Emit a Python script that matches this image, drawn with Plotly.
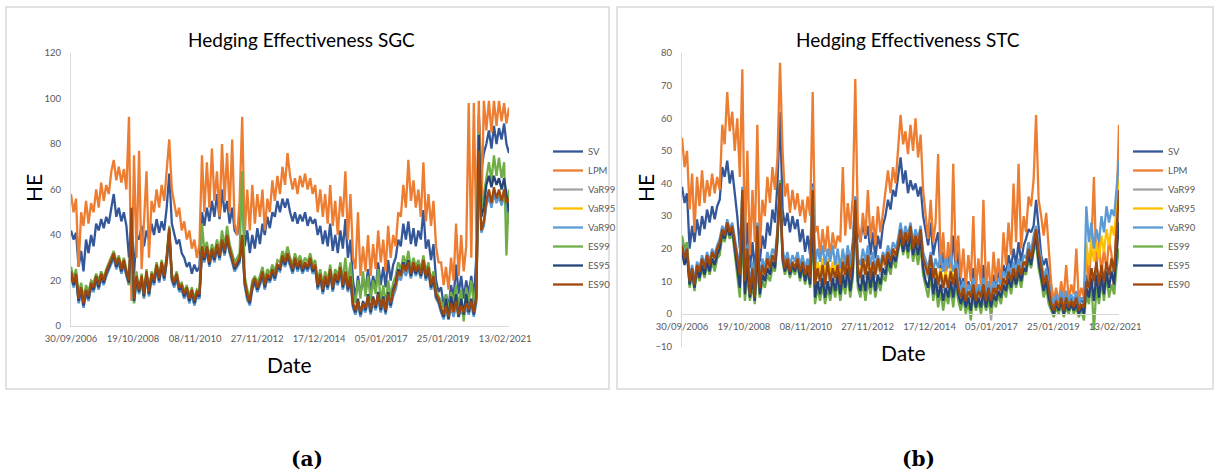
import pandas as pd
import plotly.graph_objects as go

# ---------------- data (monthly readings, Sep-2006 .. Mar-2021) ----------------
dates = pd.date_range("2006-09-30", "2021-03-31", freq="ME")

tick_dates = ["2006-09-30", "2008-10-19", "2010-11-08", "2012-11-27",
              "2014-12-17", "2017-01-05", "2019-01-25", "2021-02-13"]
tick_labels = ["30/09/2006", "19/10/2008", "08/11/2010", "27/11/2012",
               "17/12/2014", "05/01/2017", "25/01/2019", "13/02/2021"]

series_names = ["SV", "LPM", "VaR99", "VaR95", "VaR90", "ES99", "ES95", "ES90"]

# ---- Panel (a): SGC ----
sgc_sv = [42, 38, 41,
          26, 33, 24, 38, 32, 40, 35, 45, 42, 47, 43, 48,
          45, 52, 58, 48, 52, 46, 50, 44, 30, 45, 23, 40,
          38, 44, 35, 42, 38, 45, 40, 47, 41, 46, 42, 52,
          67, 45, 40, 36, 38, 32, 30, 26, 28, 23, 27, 24,
          26, 50, 44, 52, 46, 55, 48, 58, 47, 60, 50, 55,
          45, 52, 42, 40, 45, 58, 35, 42, 32, 40, 34, 43,
          36, 45, 40, 48, 43, 50, 48, 55, 50, 56, 52, 56,
          50, 46, 50, 45, 49, 46, 50, 44, 48, 45, 47, 40,
          44, 36, 42, 35, 45, 33, 40, 32, 42, 34, 47, 30,
          38, 20, 12, 22, 14, 20, 16, 25, 15, 22, 16, 28,
          18, 26, 17, 29, 20, 27, 30, 38, 35, 45, 38, 46,
          36, 43, 35, 42, 38, 51, 34, 38, 29, 36, 20, 15,
          17, 9, 14, 8, 18, 12, 27, 14, 22, 12, 20, 14,
          22, 12, 30, 93, 68, 76, 80, 86, 78, 88, 80, 87,
          82, 89, 80, 76]
sgc_lpm = [58, 50, 56,
           26, 50, 44, 55, 45, 54, 50, 60, 52, 63, 55, 62,
           58, 68, 73, 64, 70, 63, 69, 60, 92, 11, 75, 30,
           77, 25, 48, 68, 30, 55, 50, 60, 52, 62, 55, 70,
           82, 60, 55, 48, 52, 42, 46, 38, 42, 34, 38, 30,
           36, 75, 50, 72, 52, 78, 55, 68, 48, 80, 55, 76,
           50, 82, 45, 40, 55, 92, 40, 60, 42, 62, 45, 58,
           48, 60, 42, 56, 50, 64, 55, 66, 58, 70, 62, 76,
           66, 60, 65, 58, 66, 61, 67, 60, 65, 58, 62, 50,
           60, 48, 58, 45, 62, 44, 55, 40, 57, 48, 68, 38,
           58, 30, 25, 50, 22, 35, 24, 40, 22, 36, 25, 42,
           28, 38, 24, 44, 30, 40, 35, 50, 48, 62, 52, 73,
           55, 64, 52, 60, 48, 72, 46, 58, 44, 55, 35, 28,
           28, 18, 26, 16, 30, 20, 45, 22, 40, 24, 35, 98,
           30, 98, 40, 99, 48, 99, 86, 99, 85, 99, 88, 99,
           90, 98, 89, 96]
sgc_var99 = [22, 17, 21,
             10, 15, 8, 15, 11, 17, 15, 20, 16, 21, 18, 22,
             25, 28, 30, 25, 28, 23, 27, 22, 18, 40, 10, 20,
             14, 20, 12, 22, 13, 21, 18, 25, 19, 26, 20, 28,
             41, 20, 17, 21, 15, 16, 12, 15, 10, 14, 9, 13,
             12, 33, 28, 33, 26, 32, 28, 34, 29, 36, 31, 37,
             32, 28, 24, 26, 28, 37, 18, 11, 10, 16, 19, 15,
             18, 22, 16, 21, 19, 23, 20, 25, 24, 29, 26, 30,
             26, 23, 28, 24, 27, 23, 26, 24, 28, 23, 25, 16,
             21, 14, 20, 16, 23, 15, 21, 18, 24, 16, 22, 15,
             20, 8, 5, 10, 5, 9, 6, 12, 6, 11, 7, 13,
             6, 11, 6, 13, 9, 14, 17, 23, 21, 26, 23, 27,
             21, 26, 22, 25, 21, 27, 20, 24, 16, 20, 12, 10,
             6, 3, 8, 3, 9, 5, 10, 4, 8, 5, 9, 6,
             10, 5, 11, 72, 44, 45, 54, 58, 53, 59, 55, 58,
             54, 58, 53, 55]
sgc_var95 = [23, 18, 22,
             11, 16, 9, 15, 12, 18, 16, 21, 17, 22, 19, 23,
             26, 29, 31, 26, 29, 24, 28, 23, 19, 42, 11, 21,
             15, 21, 13, 23, 14, 22, 19, 26, 20, 27, 21, 29,
             42, 21, 18, 22, 16, 17, 13, 16, 11, 15, 10, 14,
             13, 34, 29, 34, 27, 33, 29, 35, 30, 37, 32, 39,
             33, 29, 25, 27, 29, 38, 19, 12, 10, 17, 20, 16,
             19, 23, 17, 22, 20, 24, 21, 26, 25, 30, 27, 31,
             27, 24, 29, 25, 28, 24, 27, 25, 29, 24, 26, 17,
             22, 15, 21, 17, 24, 16, 22, 19, 25, 17, 23, 16,
             21, 9, 6, 10, 5, 9, 7, 12, 6, 11, 8, 13,
             7, 11, 6, 13, 9, 14, 17, 23, 21, 26, 23, 27,
             22, 27, 23, 26, 22, 28, 21, 25, 17, 21, 13, 11,
             7, 4, 8, 3, 9, 5, 10, 4, 8, 5, 9, 6,
             10, 5, 11, 74, 43, 46, 54, 59, 53, 60, 55, 59,
             54, 59, 53, 55]
sgc_var90 = [22, 17, 21,
             10, 15, 8, 14, 11, 17, 15, 20, 16, 21, 18, 22,
             25, 28, 30, 25, 28, 23, 27, 22, 18, 45, 10, 20,
             14, 20, 12, 22, 13, 21, 18, 25, 19, 26, 20, 28,
             41, 20, 17, 21, 15, 16, 12, 15, 10, 14, 9, 13,
             12, 33, 28, 33, 26, 32, 28, 34, 29, 36, 31, 38,
             32, 28, 24, 26, 28, 38, 18, 12, 9, 16, 19, 15,
             18, 22, 16, 21, 19, 23, 20, 25, 24, 29, 26, 30,
             26, 23, 28, 24, 27, 23, 26, 24, 28, 23, 25, 16,
             21, 14, 20, 16, 23, 15, 21, 18, 24, 16, 22, 15,
             20, 8, 5, 9, 4, 8, 6, 11, 5, 10, 7, 12,
             6, 10, 5, 12, 8, 13, 16, 22, 20, 25, 22, 26,
             21, 26, 22, 25, 21, 27, 20, 24, 16, 20, 12, 10,
             6, 3, 7, 3, 8, 4, 9, 4, 7, 4, 8, 5,
             9, 4, 10, 75, 41, 44, 53, 57, 52, 58, 54, 57,
             53, 57, 52, 45]
sgc_es99 = [26, 21, 25,
            14, 19, 12, 18, 15, 20, 19, 23, 20, 24, 21, 25,
            28, 31, 33, 28, 31, 26, 30, 25, 18, 35, 10, 24,
            15, 23, 13, 25, 14, 24, 21, 28, 22, 29, 23, 31,
            44, 23, 20, 24, 18, 19, 15, 18, 13, 17, 12, 16,
            15, 45, 33, 37, 30, 36, 32, 38, 33, 42, 35, 44,
            36, 32, 28, 30, 32, 68, 22, 16, 12, 20, 22, 19,
            22, 26, 20, 25, 23, 27, 24, 29, 28, 33, 30, 35,
            30, 27, 32, 28, 31, 27, 30, 28, 32, 27, 29, 20,
            25, 18, 24, 20, 27, 19, 25, 22, 28, 20, 30, 19,
            28, 14, 10, 20, 12, 24, 13, 22, 11, 20, 14, 25,
            10, 18, 9, 20, 13, 19, 22, 28, 25, 31, 27, 33,
            25, 30, 26, 29, 25, 31, 24, 28, 20, 24, 16, 13,
            11, 8, 14, 6, 15, 10, 18, 9, 16, 2, 17, 10,
            20, 9, 18, 85, 52, 58, 66, 72, 64, 75, 66, 74,
            65, 72, 31, 60]
sgc_es95 = [23, 18, 22,
            11, 16, 9, 15, 12, 18, 16, 21, 17, 22, 19, 23,
            26, 29, 31, 26, 29, 24, 28, 23, 19, 45, 11, 21,
            15, 21, 13, 23, 14, 22, 19, 26, 20, 27, 21, 29,
            42, 21, 18, 22, 16, 17, 13, 16, 11, 15, 10, 14,
            13, 34, 29, 34, 27, 33, 29, 35, 30, 37, 32, 39,
            33, 29, 25, 27, 29, 38, 19, 13, 10, 17, 20, 16,
            19, 23, 17, 22, 20, 24, 21, 26, 25, 30, 27, 31,
            27, 24, 29, 25, 28, 24, 27, 25, 29, 24, 26, 17,
            22, 15, 21, 17, 24, 16, 22, 19, 25, 17, 23, 16,
            21, 9, 6, 12, 5, 11, 7, 14, 6, 13, 8, 15,
            7, 13, 6, 15, 9, 16, 19, 25, 23, 28, 25, 29,
            22, 27, 23, 26, 22, 28, 21, 25, 17, 21, 13, 11,
            7, 4, 12, 3, 13, 7, 14, 4, 12, 5, 14, 6,
            12, 5, 13, 84, 48, 52, 62, 66, 61, 66, 62, 65,
            60, 65, 58, 50]
sgc_es90 = [24, 19, 23,
            12, 17, 10, 16, 13, 19, 17, 22, 18, 23, 20, 24,
            27, 30, 32, 27, 30, 25, 29, 24, 20, 52, 12, 22,
            16, 22, 14, 24, 15, 23, 20, 27, 21, 28, 22, 30,
            43, 22, 19, 23, 17, 18, 14, 17, 12, 16, 11, 15,
            14, 35, 30, 35, 28, 34, 30, 36, 31, 38, 33, 40,
            34, 30, 26, 28, 30, 40, 20, 14, 11, 18, 21, 17,
            20, 24, 18, 23, 21, 25, 22, 27, 26, 31, 28, 32,
            28, 25, 30, 26, 29, 25, 28, 26, 30, 25, 27, 18,
            23, 16, 22, 18, 25, 17, 23, 20, 26, 18, 24, 17,
            22, 10, 7, 11, 6, 10, 8, 13, 7, 12, 9, 14,
            8, 12, 7, 14, 10, 15, 18, 24, 22, 27, 24, 28,
            23, 28, 24, 27, 23, 29, 22, 26, 18, 22, 14, 12,
            8, 5, 9, 4, 10, 6, 11, 5, 9, 6, 10, 7,
            11, 6, 12, 77, 42, 46, 55, 60, 54, 61, 56, 60,
            55, 60, 54, 56]

# ---- Panel (b): STC ----
stc_sv = [39, 34, 37,
          20, 27, 22, 29, 24, 30, 26, 32, 28, 33, 29, 33,
          35, 45, 42, 47, 40, 44, 38, 30, 20, 33, 16, 28,
          14, 22, 13, 25, 16, 24, 20, 28, 24, 32, 28, 40,
          62, 32, 27, 31, 25, 30, 26, 29, 22, 26, 19, 24,
          18, 40, 14, 12, 10, 14, 11, 15, 10, 14, 12, 16,
          12, 18, 14, 20, 15, 22, 36, 26, 22, 28, 23, 27,
          18, 25, 17, 24, 20, 27, 30, 35, 32, 38, 36, 42,
          48, 40, 44, 37, 41, 38, 40, 36, 39, 30, 26, 21,
          28, 18, 22, 25, 13, 19, 12, 18, 14, 24, 13, 20,
          7, 11, 5, 10, 6, 14, 5, 9, 6, 15, 5, 10,
          5, 12, 7, 13, 9, 15, 12, 18, 14, 20, 15, 22,
          16, 21, 23, 26, 25, 27, 35, 26, 18, 15, 17, 12,
          4, 2, 5, 3, 6, 3, 7, 2, 5, 3, 6, 2,
          5, 3, 12, 7, 14, 10, 15, 8, 13, 9, 14, 11,
          16, 12, 25, 35]
stc_lpm = [54, 45, 50,
           32, 43, 25, 42, 33, 44, 34, 41, 36, 43, 37, 42,
           38, 58, 52, 68, 56, 62, 50, 60, 42, 75, 20, 50,
           18, 38, 22, 58, 20, 35, 30, 42, 34, 45, 38, 48,
           77, 50, 36, 40, 31, 38, 32, 37, 30, 35, 28, 36,
           30, 68, 25, 27, 18, 26, 19, 27, 17, 25, 20, 24,
           22, 45, 24, 34, 26, 36, 72, 28, 22, 31, 24, 38,
           23, 30, 21, 33, 25, 31, 38, 44, 37, 45, 40, 50,
           61, 52, 56, 49, 58, 50, 60, 48, 55, 38, 30, 23,
           35, 22, 28, 49, 15, 25, 12, 22, 14, 46, 16, 24,
           11, 20, 8, 18, 10, 30, 7, 17, 9, 35, 8, 16,
           6, 19, 10, 17, 8, 25, 15, 28, 18, 40, 22, 46,
           20, 30, 25, 36, 33, 41, 61, 35, 30, 24, 31, 20,
           9, 4, 8, 3, 10, 5, 15, 4, 9, 6, 20, 4,
           8, 5, 18, 10, 21, 42, 14, 22, 12, 20, 13, 23,
           18, 6, 35, 58]
stc_var99 = [20, 16, 19,
             9, 13, 8, 14, 12, 16, 13, 17, 14, 18, 16, 19,
             21, 25, 23, 27, 24, 26, 21, 17, 11, 37, 9, 19,
             5, 13, 4, 26, 7, 14, 11, 16, 13, 17, 15, 24,
             39, 17, 13, 16, 12, 15, 13, 16, 12, 15, 11, 14,
             10, 37, 9, 13, 9, 14, 8, 15, 9, 13, 10, 14,
             8, 15, 11, 17, 10, 16, 34, 13, 10, 16, 11, 17,
             10, 15, 11, 16, 12, 17, 14, 18, 15, 19, 17, 20,
             25, 20, 24, 21, 26, 19, 23, 20, 25, 16, 13, 11,
             17, 10, 13, 8, 12, 7, 11, 7, 12, 8, 13, 7,
             4, 7, 3, 6, 4, 8, 3, 6, 4, 8, 3, 8,
             -2, 7, 5, 8, 6, 10, 8, 12, 9, 13, 10, 14,
             11, 15, 14, 19, 16, 21, 25, 18, 14, 8, 11, 7,
             2, 0, 3, 1, 4, 0, 4, 1, 3, 1, 4, 0,
             2, 1, 9, 7, 13, 9, 15, 8, 14, 9, 15, 11,
             16, 12, 24, 36]
stc_var95 = [21, 17, 20,
             10, 14, 9, 15, 13, 17, 14, 18, 15, 19, 17, 20,
             22, 26, 24, 28, 25, 27, 22, 18, 12, 38, 10, 20,
             6, 14, 5, 27, 8, 15, 12, 17, 14, 18, 16, 25,
             40, 18, 14, 17, 13, 16, 14, 17, 13, 16, 12, 15,
             11, 38, 12, 16, 12, 17, 12, 17, 12, 16, 13, 17,
             11, 17, 13, 18, 12, 17, 35, 15, 12, 17, 13, 18,
             12, 16, 12, 17, 13, 18, 15, 19, 16, 20, 18, 21,
             26, 21, 25, 22, 27, 20, 24, 21, 26, 17, 14, 12,
             18, 11, 14, 10, 14, 9, 13, 9, 14, 10, 14, 8,
             5, 8, 4, 7, 5, 9, 4, 7, 5, 9, 4, 8,
             4, 8, 6, 9, 7, 11, 9, 13, 10, 14, 11, 15,
             12, 16, 15, 20, 17, 22, 26, 19, 15, 9, 12, 8,
             3, 1, 4, 2, 5, 1, 5, 2, 4, 2, 5, 1,
             3, 2, 22, 15, 23, 16, 22, 17, 24, 19, 26, 21,
             27, 24, 32, 44]
stc_var90 = [22, 18, 21,
             11, 15, 10, 16, 14, 18, 15, 19, 16, 20, 18, 21,
             23, 27, 25, 29, 26, 28, 23, 19, 14, 39, 12, 21,
             8, 16, 7, 28, 10, 17, 14, 19, 16, 20, 18, 26,
             41, 20, 16, 19, 15, 18, 16, 19, 15, 18, 14, 17,
             13, 39, 15, 20, 16, 21, 15, 20, 16, 21, 15, 20,
             14, 20, 15, 21, 15, 20, 36, 17, 15, 20, 16, 21,
             15, 19, 14, 18, 15, 19, 17, 21, 18, 22, 20, 23,
             28, 23, 27, 24, 28, 22, 26, 23, 27, 19, 16, 14,
             19, 13, 17, 14, 18, 13, 17, 14, 18, 13, 16, 10,
             7, 10, 6, 9, 7, 11, 6, 9, 7, 11, 6, 10,
             6, 10, 8, 11, 9, 13, 11, 15, 12, 16, 13, 17,
             14, 18, 17, 22, 19, 24, 27, 21, 17, 11, 14, 10,
             5, 3, 6, 4, 7, 3, 7, 4, 6, 4, 7, 3,
             5, 4, 33, 22, 28, 20, 26, 22, 30, 25, 33, 28,
             32, 30, 38, 47]
stc_es99 = [24, 20, 22,
            8, 12, 7, 13, 10, 14, 11, 15, 12, 16, 13, 17,
            18, 24, 22, 26, 23, 25, 18, 12, 5, 25, 4, 12,
            4, 9, 3, 15, 5, 10, 8, 12, 10, 14, 13, 22,
            41, 16, 12, 15, 11, 14, 12, 15, 10, 14, 9, 13,
            8, 25, 3, 8, 4, 9, 3, 8, 4, 9, 5, 10,
            4, 10, 6, 12, 5, 11, 30, 8, 5, 10, 4, 10,
            6, 11, 5, 10, 7, 12, 10, 15, 12, 17, 14, 19,
            23, 18, 22, 17, 23, 16, 20, 15, 21, 12, 8, 5,
            12, 4, 9, 2, 7, 1, 6, 3, 8, 2, 9, 4,
            1, 5, 0, 4, -2, 6, 1, 4, 0, 5, 1, 4,
            0, 5, 2, 6, 3, 8, 5, 10, 6, 11, 8, 12,
            8, 13, 12, 17, 14, 19, 22, 14, 10, 5, 8, 3,
            1, -1, 2, 0, 3, -1, 2, 0, 3, 0, 2, -1,
            1, -2, 6, 3, 10, -5, 8, 3, 10, 4, 12, 5,
            9, 6, 14, 20]
stc_es95 = [19, 15, 18,
            9, 13, 8, 14, 11, 15, 12, 16, 13, 17, 15, 18,
            20, 25, 23, 27, 24, 26, 20, 15, 8, 30, 6, 15,
            5, 11, 4, 20, 6, 12, 10, 14, 12, 16, 14, 23,
            40, 17, 13, 16, 12, 15, 13, 16, 11, 15, 10, 14,
            9, 30, 5, 10, 6, 11, 5, 10, 6, 11, 7, 12,
            6, 12, 8, 14, 7, 13, 32, 10, 7, 12, 7, 13,
            8, 13, 7, 12, 9, 14, 12, 17, 14, 18, 16, 20,
            24, 19, 23, 19, 25, 18, 22, 18, 23, 14, 10, 8,
            14, 6, 11, 5, 9, 4, 8, 5, 10, 5, 11, 6,
            3, 6, 2, 5, 1, 7, 2, 5, 2, 7, 2, 6,
            2, 6, 4, 7, 5, 9, 7, 11, 8, 12, 9, 13,
            10, 14, 13, 18, 15, 20, 24, 16, 12, 7, 10, 5,
            2, 0, 3, 1, 4, 0, 3, 1, 3, 1, 3, 0,
            2, 0, 8, 5, 11, 4, 12, 5, 12, 6, 13, 8,
            13, 9, 18, 28]
stc_es90 = [21, 17, 20,
            10, 14, 9, 15, 13, 17, 14, 18, 15, 19, 17, 20,
            22, 26, 24, 28, 25, 27, 22, 18, 12, 38, 10, 20,
            6, 14, 5, 27, 8, 15, 12, 17, 14, 18, 16, 25,
            40, 18, 14, 17, 13, 16, 14, 17, 13, 16, 12, 15,
            11, 38, 9, 14, 10, 15, 9, 16, 10, 14, 11, 15,
            9, 16, 12, 18, 11, 17, 35, 14, 11, 17, 12, 18,
            11, 16, 12, 17, 13, 18, 15, 19, 16, 20, 18, 21,
            26, 21, 25, 22, 27, 20, 24, 21, 26, 17, 14, 12,
            18, 11, 14, 9, 13, 8, 12, 8, 13, 9, 14, 8,
            5, 8, 4, 7, 5, 9, 4, 7, 5, 9, 4, 8,
            4, 8, 6, 9, 7, 11, 9, 13, 10, 14, 11, 15,
            12, 16, 15, 20, 17, 22, 26, 19, 15, 9, 12, 8,
            3, 1, 4, 2, 5, 1, 5, 2, 4, 2, 5, 1,
            3, 2, 10, 8, 14, 10, 16, 9, 15, 10, 16, 12,
            17, 13, 25, 38]

colors = ["#34579A", "#ED7D31", "#A5A5A5", "#FFC000",
          "#5B9BD5", "#70AD47", "#264478", "#9E480E"]

sgc_values = [sgc_sv, sgc_lpm, sgc_var99, sgc_var95, sgc_var90, sgc_es99, sgc_es95, sgc_es90]
stc_values = [stc_sv, stc_lpm, stc_var99, stc_var95, stc_var90, stc_es99, stc_es95, stc_es90]

# ---------------- figure ----------------
W, H = 1218, 474
def px(x):
    return x / W
def py(y):
    return (H - y) / H

FONT = "Lato, Open Sans, sans-serif"
TICK_FONT = dict(family=FONT, size=9.5, color="#595959")
AX_LINE = "#D9D9D9"
LW = 2.3

fig = go.Figure()

for name, vals, col in zip(series_names, sgc_values, colors):
    fig.add_trace(go.Scatter(x=dates, y=vals, name=name, mode="lines",
                             line=dict(color=col, width=LW),
                             xaxis="x", yaxis="y", legend="legend"))
for name, vals, col in zip(series_names, stc_values, colors):
    fig.add_trace(go.Scatter(x=dates, y=vals, name=name, mode="lines",
                             line=dict(color=col, width=LW),
                             xaxis="x2", yaxis="y2", legend="legend2"))

ya_dom = [py(326), py(53)]
yb_dom = [py(346.5), py(53)]
yb_range = [-10, 80]
zero_pos_b = yb_dom[0] + (yb_dom[1] - yb_dom[0]) * (0 - yb_range[0]) / (yb_range[1] - yb_range[0])

xrange = ["2006-09-30", "2021-03-31"]
common_x = dict(type="date", range=xrange, tickmode="array", tickvals=tick_dates,
                ticktext=tick_labels, showgrid=False, zeroline=False, showline=True,
                linecolor=AX_LINE, linewidth=1, ticks="outside", ticklen=4,
                tickcolor="rgba(0,0,0,0)", tickfont=TICK_FONT, tickangle=0,
                automargin=False)
common_y = dict(showgrid=False, zeroline=False, showline=True, linecolor=AX_LINE,
                linewidth=1, ticks="outside", ticklen=7, tickcolor="rgba(0,0,0,0)",
                tickfont=TICK_FONT, automargin=False)

LEG_FONT = dict(family=FONT, size=9.5, color="#595959")
fig.update_layout(
    width=W, height=H, margin=dict(l=0, r=0, t=0, b=0, autoexpand=False),
    paper_bgcolor="white", plot_bgcolor="white",
    xaxis=dict(domain=[px(71), px(509)], anchor="y", **common_x),
    yaxis=dict(domain=ya_dom, anchor="x", range=[0, 120], dtick=20, **common_y),
    xaxis2=dict(domain=[px(682), px(1119)], anchor="free", position=zero_pos_b, **common_x),
    yaxis2=dict(domain=yb_dom, anchor="x2", range=yb_range, dtick=10, **common_y),
    showlegend=True,
    legend=dict(x=px(548), y=py(137), xanchor="left", yanchor="top", font=LEG_FONT,
                bgcolor="rgba(0,0,0,0)", itemwidth=30, tracegroupgap=0),
    legend2=dict(x=px(1128), y=py(137), xanchor="left", yanchor="top", font=LEG_FONT,
                 bgcolor="rgba(0,0,0,0)", itemwidth=30, tracegroupgap=0),
)

# panel borders
for x0, x1 in [(6, 609), (617, 1213)]:
    fig.add_shape(type="rect", xref="paper", yref="paper",
                  x0=px(x0), x1=px(x1), y0=py(389), y1=py(7),
                  line=dict(color=AX_LINE, width=1.5), fillcolor="rgba(0,0,0,0)", layer="below")

annos = [
    dict(text="Hedging Effectiveness SGC", x=px(301), y=py(40), size=19),
    dict(text="Hedging Effectiveness STC", x=px(908), y=py(40), size=19),
    dict(text="Date", x=px(289), y=py(364), size=21),
    dict(text="Date", x=px(903), y=py(352), size=21),
]
for a in annos:
    fig.add_annotation(text=a["text"], x=a["x"], y=a["y"], xref="paper", yref="paper",
                       showarrow=False, xanchor="center", yanchor="middle",
                       font=dict(family=FONT, size=a["size"], color="#000000"))
for xx in (33, 645):
    fig.add_annotation(text="HE", x=px(xx), y=py(188), xref="paper", yref="paper",
                       showarrow=False, textangle=-90, xanchor="center", yanchor="middle",
                       font=dict(family=FONT, size=21, color="#000000"))
for txt, xx in (("(a)", 307), ("(b)", 918)):
    fig.add_annotation(text="<b>%s</b>" % txt, x=px(xx), y=py(459), xref="paper", yref="paper",
                       showarrow=False, xanchor="center", yanchor="middle",
                       font=dict(family="DejaVu Serif", size=20, color="#000000"))

fig.write_html("out.html")
